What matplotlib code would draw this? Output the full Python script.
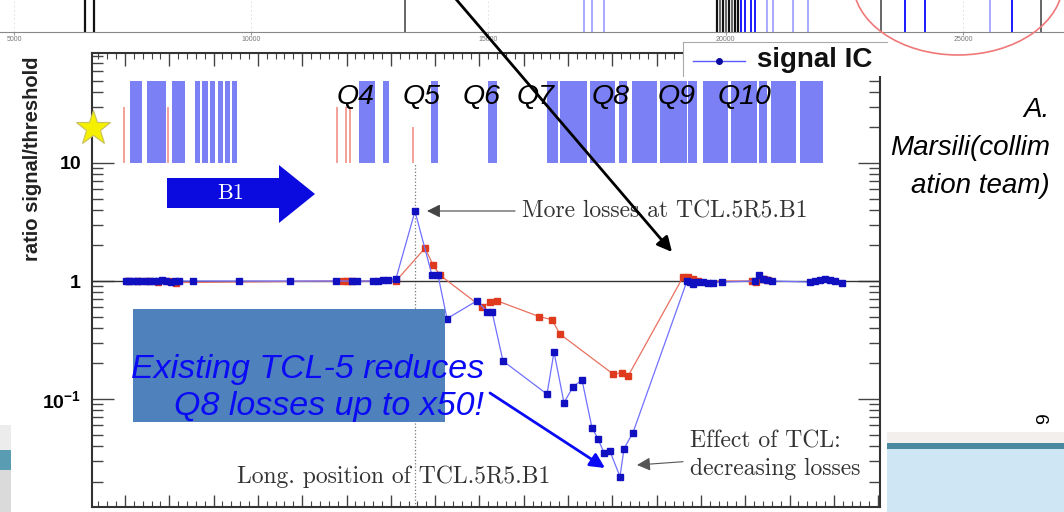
import numpy as np
import matplotlib
matplotlib.use("Agg")
import matplotlib.pyplot as plt
from matplotlib.patches import Rectangle, Ellipse, Polygon

W, H = 1064, 512

plt.rcParams["font.family"] = ["Liberation Sans", "DejaVu Sans"]
plt.rcParams["mathtext.fontset"] = "custom"
plt.rcParams["mathtext.rm"] = "Liberation Sans"
plt.rcParams["mathtext.bf"] = "Liberation Sans:bold"

# loss map: longitudinal position (scan units) vs ratio signal/threshold
blue_pos = [126, 129, 133, 137, 141, 146, 150, 154, 158, 162, 166, 171, 175, 179,
            193, 239, 290, 336, 352, 357, 373, 378, 383, 388, 396, 415, 432, 438,
            447, 477, 487, 492, 503, 547, 554, 564, 573, 582, 592, 598, 604, 610,
            620, 624, 633, 687, 690, 693, 697, 703, 708, 713, 722, 755, 759, 763,
            767, 772, 810, 815, 820, 825, 830, 835, 842]
blue_ratio = [1.0, 1.0, 1.0, 1.0, 1.0, 1.0, 1.0, 1.0, 1.0, 1.02, 1.0, 0.98, 1.0, 1.0,
              1.0, 1.0, 1.0, 1.0, 1.0, 1.0, 1.0, 1.0, 1.02, 1.02, 1.05, 3.9, 1.12, 1.12,
              0.48, 0.68, 0.55, 0.55, 0.21, 0.11, 0.25, 0.093, 0.127, 0.145, 0.057, 0.046, 0.035, 0.036,
              0.022, 0.038, 0.052, 1.0, 0.98, 0.95, 0.98, 0.98, 0.97, 0.97, 0.98, 1.0, 1.12, 1.03,
              1.02, 1.0, 0.98, 1.0, 1.02, 1.05, 1.02, 1.0, 0.96]

red_pos = [128, 138, 148, 158, 168, 176, 343, 347, 351, 396, 425, 433, 440,
           482, 490, 497, 539, 552, 560, 613, 622, 628, 683, 688, 693, 698,
           752, 756, 760, 764, 768]
red_ratio = [1.0, 1.0, 1.0, 0.98, 1.0, 0.97, 1.0, 1.0, 1.0, 1.0, 1.9, 1.37, 1.12,
             0.6, 0.66, 0.68, 0.5, 0.47, 0.355, 0.163, 0.166, 0.156, 1.08, 1.08, 1.05, 1.0,
             1.0, 0.98, 1.05, 1.03, 1.02]

# machine elements drawn as blocks between ratio 10 and 50
elem_start = [130, 147, 172, 195, 202, 210, 218, 225, 232, 359, 383, 431, 488,
              547, 560, 590, 619, 632, 660, 688, 703, 731, 759, 771, 800]
elem_end = [142, 166, 185, 200, 208, 215, 223, 230, 237, 375, 389, 438, 497,
            558, 587, 615, 627, 657, 687, 697, 728, 757, 767, 796, 823]
elem_bottom, elem_top = 10, 50

# collimators (thin red marks)
coll_pos = [124, 168, 337, 346, 350, 413]
coll_top = [30, 30, 30, 30, 30, 20]

quad_names = ["Q4", "Q5", "Q6", "Q7", "Q8", "Q9", "Q10"]
quad_pos = [356, 422, 482, 536, 611, 677, 745]
tcl_pos = 415

# layout strip on top (s in m)
strip_ticks = [5000, 10000, 15000, 20000, 25000]
strip_black = [6496, 6686, 19816, 19942, 20069, 20195, 20258]
strip_gray = [13240, 19879, 20005, 20132, 23273, 26645]
strip_blue = [20321, 20405, 20532, 20617, 23778, 24200, 26034]
strip_lightblue = [17013, 17181, 17434, 20870, 20997, 21418, 21734, 25570]

X0, X1 = 92, 880
Y0, Y1 = 10 ** -1.915, 10 ** 1.932


def px_box(x0, y0, x1, y1):
    return [x0 / W, 1 - y1 / H, (x1 - x0) / W, (y1 - y0) / H]


fig = plt.figure(figsize=(W / 100, H / 100), dpi=100)
fig.patch.set_facecolor("white")

# top strip (other plot fragment)
sax = fig.add_axes(px_box(0, 0, W, 32), zorder=0)
sax.vlines(strip_black, 0, 1, colors="#111111", lw=1.6)
sax.vlines(strip_gray, 0, 1, colors="#666666", lw=1.4)
sax.vlines(strip_blue, 0, 1, colors="#1a1aff", lw=1.4)
sax.vlines(strip_lightblue, 0, 1, colors="#9a9cff", lw=1.2)
sax.set_xticks(strip_ticks)
sax.set_xticklabels([str(t) for t in strip_ticks])
sax.set_xlim(4705, 27129)
sax.set_ylim(0, 1)
sax.tick_params(axis="x", labelsize=5, labelcolor="#777777", length=2, pad=1, color="#999999")
sax.set_yticks([])
sax.grid(axis="x", ls=(0, (2, 3)), color="#dddddd", lw=0.6)
for s in ["top", "left", "right"]:
    sax.spines[s].set_visible(False)
sax.spines["bottom"].set_color("#888888")

# main loss map
ax = fig.add_axes(px_box(92, 53, 880, 507), zorder=2)
ax.set_yscale("log")

ax.bar(elem_start, [elem_top - elem_bottom] * len(elem_start), bottom=elem_bottom,
       width=np.array(elem_end) - np.array(elem_start), align="edge",
       color="#7b80f4", lw=0, zorder=1)
ax.vlines(coll_pos, elem_bottom, coll_top, colors="#f29a90", lw=1.3, zorder=1)
ax.vlines(tcl_pos, Y0, elem_bottom, colors="#777777", linestyles=":", lw=0.9, zorder=1)
ax.axhline(1, color="#333333", lw=1.0, zorder=2)

ax.plot(red_pos, red_ratio, color="#e8705f", lw=0.9, marker="s", ms=4,
        mfc="#e03a1e", mec="#e03a1e", zorder=4)
ax.plot(blue_pos, blue_ratio, color="#7070ff", lw=0.9, marker="s", ms=4,
        mfc="#1010c0", mec="#1010c0", zorder=5)

for name, x in zip(quad_names, quad_pos):
    ax.text(x, 36, name, ha="center", va="center", fontsize=20.5, style="italic", zorder=6)

ax.annotate("More losses at TCL.5R5.B1", xy=(427, 3.92), xytext=(522, 3.92),
            ha="left", va="center", fontsize=17, family="cmr10", color="#333333",
            arrowprops=dict(arrowstyle="-|>", color="#444444", lw=0.8,
                            mutation_scale=20, shrinkA=3, shrinkB=0))
ax.annotate("Effect of TCL:\ndecreasing losses", xy=(637, 0.0276), xytext=(690, 0.0335),
            ha="left", va="center", fontsize=17, family="cmr10", color="#333333",
            linespacing=1.3,
            arrowprops=dict(arrowstyle="-|>", color="#555555", lw=0.8,
                            mutation_scale=20, shrinkA=3, shrinkB=0))
ax.text(237, 0.0218, "Long. position of TCL.5R5.B1", ha="left", va="center",
        fontsize=17, family="cmr10", color="#333333")

ax.set_yticks([0.1, 1, 10], labels=[r"$\mathbf{10^{-1}}$", "1", "10"])
for lbl in ax.get_yticklabels():
    lbl.set_fontweight("bold")
ax.tick_params(axis="y", which="major", direction="in", length=16, width=1,
               labelsize=14, pad=8, right=True, color="#444444")
ax.tick_params(axis="y", which="minor", direction="in", length=8, width=1,
               right=True, color="#444444")
ax.set_xticks(np.arange(125, X1, 44.3))
minor_x = np.arange(125 - 44.3, X1, 8.86)
ax.set_xticks(minor_x[minor_x > X0], minor=True)
ax.tick_params(axis="x", which="major", direction="in", length=9, width=1,
               top=True, labelbottom=False, color="#444444")
ax.tick_params(axis="x", which="minor", direction="in", length=4, width=0.8,
               top=True, color="#444444")
ax.set_xlim(X0, X1)
ax.set_ylim(Y0, Y1)
for s in ax.spines.values():
    s.set_color("#333333")
    s.set_linewidth(1.5)
ax.set_ylabel("ratio signal/threshold", fontsize=14.5, fontweight="bold",
              color="#222222")
ax.yaxis.set_label_coords(-50 / 788, 0.768)

# legend fragment (clipped by the slide)
lax = fig.add_axes(px_box(683, 42, 887, 76), zorder=5)
lax.set_xlim(683, 887)
lax.set_ylim(76, 42)
lax.set_xticks([])
lax.set_yticks([])
for s in ["right", "bottom"]:
    lax.spines[s].set_visible(False)
for s in ["left", "top"]:
    lax.spines[s].set_color("#aaaaaa")
    lax.spines[s].set_linewidth(0.8)
lax.plot([693, 745], [61, 61], color="#5a5aff", lw=1)
lax.plot([719], [61], marker="o", ms=4, color="#0a0aa0")
lax.text(757, 60, "signal IC", fontsize=20, fontweight="bold", va="center",
         ha="left", color="#111111", clip_on=True)

# slide decorations
deco = fig.add_axes([0, 0, 1, 1], zorder=10)
deco.set_xlim(0, W)
deco.set_ylim(H, 0)
deco.axis("off")
deco.patch.set_alpha(0)

deco.add_patch(Ellipse((958, -18), 210, 146, fill=False, ec="#f07878", lw=1.2))

deco.add_patch(Rectangle((887, 432), 177, 12, color="#f3efec", lw=0))
deco.add_patch(Rectangle((887, 443), 177, 6, color="#4a8aa0", lw=0))
deco.add_patch(Rectangle((887, 449), 177, 63, color="#cfe7f4", lw=0))
deco.add_patch(Rectangle((0, 425), 11, 25, color="#ececec", lw=0))
deco.add_patch(Rectangle((0, 450), 11, 20, color="#5a9db3", lw=0))
deco.add_patch(Rectangle((0, 470), 11, 42, color="#dadada", lw=0))

deco.add_patch(Polygon([(167, 178), (279, 178), (279, 165), (315, 194),
                        (279, 223), (279, 208), (167, 208)], closed=True,
                       color="#0b0be0", lw=0))
deco.text(231, 193, "B1", ha="center", va="center", color="white",
          fontsize=16, family="cmr10")
deco.plot(93, 128, marker="*", ms=26, color="#f5f000", mec="#c8c060", mew=0.8)

deco.add_patch(Rectangle((133, 309), 312, 113, color="#4f81bd", lw=0))
deco.text(484, 388, "Existing TCL-5 reduces\nQ8 losses up to x50!", ha="right",
          va="center", multialignment="right", fontsize=24.5, style="italic",
          color="#0a0af5", linespacing=1.25)
deco.annotate("", xy=(605, 468), xytext=(490, 393),
              arrowprops=dict(arrowstyle="-|>", color="#0a0af5", lw=2,
                              mutation_scale=22, shrinkA=0, shrinkB=0))
deco.annotate("", xy=(672, 252), xytext=(455, -2),
              arrowprops=dict(arrowstyle="-|>", color="black", lw=2,
                              mutation_scale=22, shrinkA=0, shrinkB=0))

deco.text(1050, 148, "A.\nMarsili(collim\nation team)", ha="right", va="center",
          multialignment="right", fontsize=20, style="italic", linespacing=1.58)
deco.text(1045, 419, "9", ha="center", va="center", fontsize=14, rotation=90)

fig.savefig("out.png", dpi=100, facecolor="white")
